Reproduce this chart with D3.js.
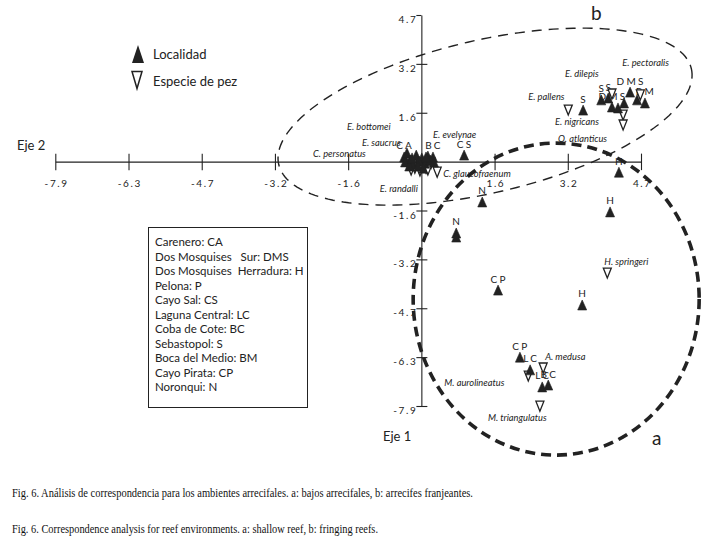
<!DOCTYPE html>
<html><head><meta charset="utf-8">
<script src="https://cdn.jsdelivr.net/npm/d3@7"></script>
<style>body{margin:0;background:#fff} svg{display:block}</style>
</head><body>
<svg id="c" width="708" height="543"></svg>
<script>
// ---------- data ----------
const tickValues = [-7.875, -6.3, -4.725, -3.15, -1.575, 1.575, 3.15, 4.725];
const tickLabels = ["-7.9", "-6.3", "-4.7", "-3.2", "-1.6", "1.6", "3.2", "4.7"];

// Localidades (filled triangles)
const locCode = ["S","S","DMS","S","DMS","BM","","","",
                 "H","N","N","","H","CP","H","CP","LC","LC","BC",
                 "CA","","","","","","","BC","CS","","",
                 "","","","","","","",""];
const locX = [3.48,3.87,4.10,4.02,4.49,4.81,4.23,4.36,4.64,
              4.25,1.31,0.75,0.75,4.06,1.65,3.46,2.12,2.34,2.60,2.73,
              -0.37,-0.24,-0.11,0.01,0.14,-0.18,0.08,0.25,0.92,-0.05,-0.31,
              -0.35,-0.26,-0.07,0.04,0.19,-0.20,0.10,0.27];
const locY = [1.66,1.99,1.76,2.05,2.24,1.89,1.73,1.89,1.99,
              -0.34,-1.30,-2.30,-2.43,-1.62,-4.14,-4.62,-6.30,-6.71,-7.26,-7.20,
              0.15,0.05,0.21,0.12,0.18,-0.08,-0.05,0.15,0.21,0.02,0.28,
              -0.01,-0.14,-0.14,-0.21,0.05,0.12,0.15,-0.01];

// Especies de pez (hollow triangles)
const spName = ["E. pectoralis","E. dilepis","E. pallens","E. nigricans","O. atlanticus",
                "H. springeri","A. medusa","M. aurolineatus","M. triangulatus",
                "C. glaucofraenum","E. randalli","E. bottomei","E. saucrus","C. personatus","E. evelynae",
                "","",""];
const spX = [4.71,4.10,3.16,4.34,4.34, 4.00,2.62,2.30,2.55, 0.34,-0.14,-0.03,-0.29,0.10,0.21, -0.22,-0.03,0.14];
const spY = [2.15,2.18,1.66,1.50,1.18, -3.59,-6.65,-6.91,-7.88, -0.34,-0.21,-0.11,-0.08,-0.21,-0.05, -0.27,-0.30,-0.27];

const legendLabels = ["Localidad", "Especie de pez"];
const boxLines = ["Carenero: CA","Dos Mosquises   Sur: DMS","Dos Mosquises  Herradura: H","Pelona: P",
                  "Cayo Sal: CS","Laguna Central: LC","Coba de Cote: BC","Sebastopol: S",
                  "Boca del Medio: BM","Cayo Pirata: CP","Noronqui: N"];
const captions = ["Fig. 6. Análisis de correspondencia para los ambientes arrecifales. a: bajos arrecifales, b: arrecifes franjeantes.",
                  "Fig. 6. Correspondence analysis for reef environments. a: shallow reef, b: fringing reefs."];
const axisNames = ["Eje 2", "Eje 1"];
const groupNames = ["a", "b"];

// ---------- layout ----------
const ink = "#222";
const labelOffset = {
  "E. pectoralis":[-18,-29], "E. dilepis":[-47,-17], "E. pallens":[-40,-10], "E. nigricans":[-68,10],
  "O. atlanticus":[-65,17], "H. springeri":[-3,-8], "A. medusa":[2,-8], "M. aurolineatus":[-84,10],
  "M. triangulatus":[-52,15], "C. glaucofraenum":[6,5], "E. randalli":[-35,24], "E. bottomei":[-73,-35],
  "E. saucrus":[-46,-18], "C. personatus":[-113,-11], "E. evelynae":[2,-25]
};

const svg = d3.select("#c");
const x = d3.scaleLinear().domain([-7.875, 4.725]).range([55.3, 641]);
const y = d3.scaleLinear().domain([-7.875, 4.725]).range([406, 15]);

const fmt = (d) => tickLabels[tickValues.indexOf(d)];

// x axis
const gx = svg.append("g").attr("transform", `translate(0,${y(0)})`)
  .call(d3.axisBottom(x).tickValues(tickValues).tickFormat(fmt).tickSizeOuter(0).tickSizeInner(8));
gx.select(".domain").attr("stroke", ink).attr("stroke-width", 1.1);
gx.selectAll(".tick line").attr("stroke", ink).attr("y1", -8).attr("y2", 8.5).attr("stroke-width", 1.1);
gx.selectAll(".tick text").attr("y", 25.5).attr("dy", 0).attr("dx", 0.8)
  .attr("font-family", "Lato, sans-serif").attr("font-size", 10).attr("letter-spacing", 1.6).attr("fill", "#222");

// y axis
const gy = svg.append("g").attr("transform", `translate(${x(0)},0)`)
  .call(d3.axisLeft(y).tickValues(tickValues).tickFormat(fmt).tickSizeOuter(0).tickSizeInner(5));
gy.select(".domain").attr("stroke", ink).attr("stroke-width", 1.1);
gy.selectAll(".tick line").attr("stroke", ink).attr("x1", -5).attr("x2", 6).attr("stroke-width", 1.1);
gy.selectAll(".tick text").attr("x", -4).attr("y", 7.5).attr("dy", 0)
  .attr("font-family", "Lato, sans-serif").attr("font-size", 10).attr("letter-spacing", 1.6).attr("fill", "#222");
gy.selectAll(".tick").filter(d => d === 4.725).select("line").attr("x2", 0);

// axis names
svg.append("text").attr("x", 17).attr("y", 150).text(axisNames[0])
  .attr("font-family", "Lato, sans-serif").attr("font-size", 13).attr("fill", ink);
svg.append("text").attr("x", 383).attr("y", 441).text(axisNames[1])
  .attr("font-family", "Lato, sans-serif").attr("font-size", 13).attr("fill", ink);

const upTri = (w, h) => `M0,${-h/2}L${w/2},${h/2}L${-w/2},${h/2}Z`;
const downTri = (w, h) => `M${-w/2},${-h/2}L${w/2},${-h/2}L0,${h/2}Z`;

// locality labels (drawn first, triangles on top)
const locData = locCode.map((c, i) => ({c, x: locX[i], y: locY[i]}));
svg.append("g").selectAll("text").data(locData.filter(d => d.c)).join("text")
  .attr("x", d => x(d.x) + 1).attr("y", d => y(d.y) - 7.5)
  .attr("text-anchor", "middle").attr("letter-spacing", 2.2)
  .attr("font-family", "Lato, sans-serif").attr("font-size", 10).attr("fill", ink)
  .text(d => d.c);

// species labels
const spData = spName.map((n, i) => ({n, x: spX[i], y: spY[i]}));
svg.append("g").selectAll("text").data(spData.filter(d => d.n)).join("text")
  .attr("x", d => x(d.x) + labelOffset[d.n][0]).attr("y", d => y(d.y) + labelOffset[d.n][1])
  .attr("font-family", "Lato, sans-serif").attr("font-style", "italic").attr("font-size", 9.3).attr("fill", ink)
  .text(d => d.n);

// species points
svg.append("g").selectAll("path").data(spData).join("path")
  .attr("transform", d => `translate(${x(d.x)},${y(d.y)})`)
  .attr("d", downTri(8, 10)).attr("fill", "#fff").attr("stroke", ink).attr("stroke-width", 1.3);

// locality points
svg.append("g").selectAll("path").data(locData).join("path")
  .attr("transform", d => `translate(${x(d.x)},${y(d.y)})`)
  .attr("d", upTri(9, 10)).attr("fill", ink).attr("stroke", ink).attr("stroke-width", 0.6);

// ellipse b (thin dashed, rotated)
const eb = {cx: x(1.37), cy: y(1.45), a: 211.8, b: 76.4, th: -13.07 * Math.PI / 180};
const ebPts = d3.range(0, 361, 2).map(t => {
  const r = t * Math.PI / 180;
  return [eb.cx + eb.a * Math.cos(r) * Math.cos(eb.th) - eb.b * Math.sin(r) * Math.sin(eb.th),
          eb.cy + eb.a * Math.cos(r) * Math.sin(eb.th) + eb.b * Math.sin(r) * Math.cos(eb.th)];
});
svg.append("path").attr("d", d3.line().curve(d3.curveLinearClosed)(ebPts))
  .attr("fill", "none").attr("stroke", ink).attr("stroke-width", 1.4).attr("stroke-dasharray", "10 7");

// ellipse a (thick dashed)
svg.append("ellipse").attr("cx", x(2.90)).attr("cy", y(-4.43)).attr("rx", 143).attr("ry", 156)
  .attr("fill", "none").attr("stroke", ink).attr("stroke-width", 3.6).attr("stroke-dasharray", "10 6");

// group letters
svg.append("text").attr("x", 591).attr("y", 20).text(groupNames[1])
  .attr("font-family", "Lato, sans-serif").attr("font-size", 19).attr("fill", ink);
svg.append("text").attr("x", 652).attr("y", 445).text(groupNames[0])
  .attr("font-family", "Lato, sans-serif").attr("font-size", 19).attr("fill", ink);

// legend
svg.append("path").attr("transform", "translate(138,54)").attr("d", upTri(12, 18)).attr("fill", ink);
svg.append("path").attr("transform", "translate(137,80)").attr("d", downTri(10, 17))
  .attr("fill", "#fff").attr("stroke", ink).attr("stroke-width", 1.5);
svg.append("g").selectAll("text").data(legendLabels).join("text")
  .attr("x", 153).attr("y", (d, i) => 59 + i * 27).text(d => d)
  .attr("font-family", "Lato, sans-serif").attr("font-size", 13).attr("fill", ink);

// code box
svg.append("rect").attr("x", 148.5).attr("y", 227.5).attr("width", 159).attr("height", 180)
  .attr("fill", "#fff").attr("stroke", ink).attr("stroke-width", 1);
svg.append("g").selectAll("text").data(boxLines).join("text")
  .attr("x", 155).attr("y", (d, i) => 246 + i * 14.5).text(d => d)
  .style("white-space", "pre")
  .attr("font-family", "Lato, sans-serif").attr("font-size", 11.5).attr("fill", ink);

// captions
svg.append("g").selectAll("text").data(captions).join("text")
  .attr("x", 12).attr("y", (d, i) => 497 + i * 36).text(d => d)
  .attr("textLength", (d, i) => i === 0 ? 461 : 366).attr("lengthAdjust", "spacingAndGlyphs")
  .attr("font-family", "'Liberation Serif', serif").attr("font-size", 13).attr("fill", "#111");
</script>
</body></html>
